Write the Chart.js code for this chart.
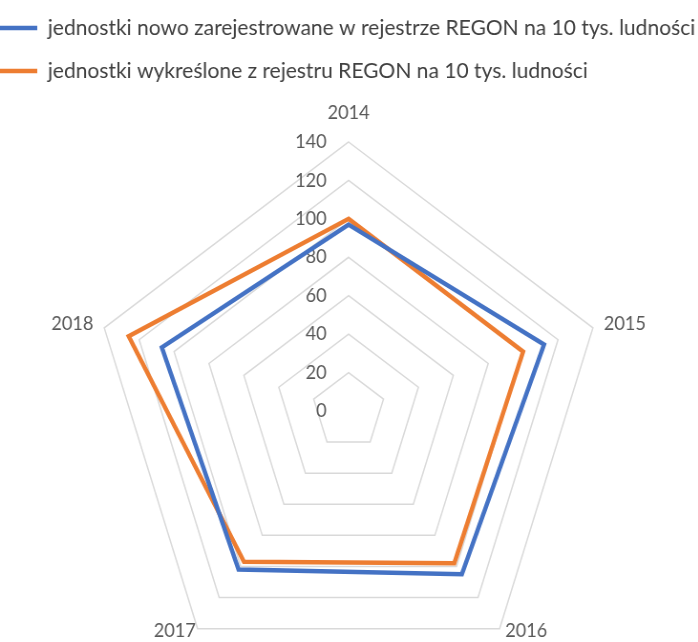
<!DOCTYPE html>
<html>
<head>
<meta charset="utf-8">
<script src="https://cdn.jsdelivr.net/npm/chart.js@4.4.1/dist/chart.umd.min.js"></script>
<style>
  html, body { margin: 0; padding: 0; background: #fff; overflow: hidden; }
  /* the source picture is a little squeezed sideways; the plot also runs past the bottom edge */
  #wrap { width: 731px; height: 681px; transform: scaleX(0.955); transform-origin: 0 0; }
</style>
</head>
<body>
<div id="wrap"><canvas id="radar" width="731" height="681"></canvas></div>
<script>
var years      = ['2014', '2015', '2016', '2017', '2018'];
var registered = [97, 112, 105, 102, 107];
var removed    = [100, 100, 98, 97, 126];
var rTicks     = [0, 20, 40, 60, 80, 100, 120, 140];
var seriesNames = [
    'jednostki nowo zarejestrowane w rejestrze REGON na 10 tys. ludności',
    'jednostki wykreślone z rejestru REGON na 10 tys. ludności'
];

var BLUE = '#4472c4', ORANGE = '#ed7d31', TEXT = '#595959';
var FONT = 'Lato, "Open Sans", sans-serif';
var labelGap = [20, 12, 3, 3, 12];   // distance of each year label from the outer ring

// Excel-style: tick numbers left of the axis, years hugging the pentagon
var radarText = {
    id: 'radarText',
    beforeInit: function (chart) {
        // push the plot down below the legend
        if (!chart.legend) return;
        var fit = chart.legend.fit;
        chart.legend.fit = function () { fit.call(this); this.height += 50; };
    },
    beforeDatasetsDraw: function (chart) {
        var r = chart.scales.r, ctx = chart.ctx;
        ctx.save();
        ctx.fillStyle = TEXT;
        ctx.font = '19px ' + FONT;
        ctx.textAlign = 'right';
        ctx.textBaseline = 'middle';
        rTicks.forEach(function (v) {
            ctx.fillText(String(v), r.xCenter - 23, r.yCenter - r.getDistanceFromCenterForValue(v));
        });
        years.forEach(function (y, i) {
            var p  = r.getPointPosition(i, r.drawingArea + labelGap[i]);
            var dx = p.x - r.xCenter;
            ctx.textAlign    = Math.abs(dx) < 1 ? 'center' : (dx > 0 ? 'left' : 'right');
            ctx.textBaseline = i === 0 ? 'bottom' : 'middle';
            ctx.fillText(y, p.x + (dx > 1 && i === 2 ? 4 : 0), p.y);
        });
        ctx.restore();
    }
};

new Chart(document.getElementById('radar'), {
    type: 'radar',
    data: {
        labels: years,
        datasets: [
            {
                label: seriesNames[0],
                data: registered,
                borderColor: BLUE,
                backgroundColor: BLUE,
                borderWidth: 4.5,
                borderJoinStyle: 'miter',
                pointRadius: 0,
                fill: false
            },
            {
                label: seriesNames[1],
                data: removed,
                borderColor: ORANGE,
                backgroundColor: ORANGE,
                borderWidth: 4.5,
                borderJoinStyle: 'miter',
                pointRadius: 0,
                fill: false
            }
        ]
    },
    options: {
        responsive: false,
        animation: false,
        layout: { padding: { top: -4, bottom: 0, left: -22, right: 0 } },
        plugins: {
            legend: {
                position: 'top',
                align: 'start',
                labels: {
                    usePointStyle: true,
                    pointStyle: 'line',
                    pointStyleWidth: 40,
                    padding: 21,
                    color: '#404040',
                    font: { family: FONT, size: 22 }
                }
            },
            tooltip: { enabled: false }
        },
        scales: {
            r: {
                min: rTicks[0],
                max: rTicks[rTicks.length - 1],
                ticks: { stepSize: 20, display: false },
                grid: { color: '#d9d9d9', lineWidth: 1.5 },
                angleLines: { display: false },
                pointLabels: { display: false }
            }
        }
    },
    plugins: [radarText]
});
</script>
</body>
</html>
